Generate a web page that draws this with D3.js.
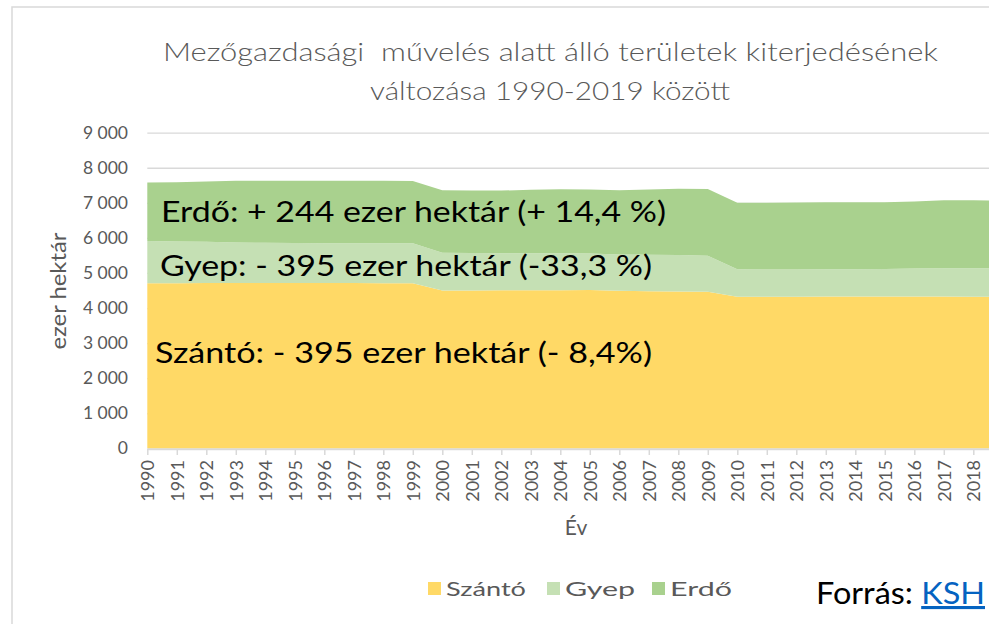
<!DOCTYPE html>
<html><head><meta charset="utf-8">
<script src="https://cdn.jsdelivr.net/npm/d3@7"></script>
<style>
body{margin:0;background:#fff}
svg{display:block}
text{font-family:Lato,"Open Sans",sans-serif}
</style>
</head><body>
<svg id="c" width="989" height="624"></svg>
<script>
const years = [1990,1991,1992,1993,1994,1995,1996,1997,1998,1999,2000,2001,2002,2003,2004,2005,2006,2007,2008,2009,2010,2011,2012,2013,2014,2015,2016,2017,2018,2019];
const szanto = [4705,4710,4712,4715,4715,4716,4716,4715,4710,4710,4500,4503,4505,4507,4510,4513,4490,4480,4470,4465,4323,4320,4325,4330,4330,4330,4330,4330,4325,4320];
const gyep   = [1206,1190,1178,1155,1145,1139,1134,1135,1140,1135,1080,1067,1060,1053,1050,1042,1040,1040,1040,1027,781,780,775,775,775,780,800,805,810,812];
const erdo   = [1667,1690,1720,1760,1770,1775,1780,1780,1780,1780,1780,1780,1785,1810,1830,1825,1830,1860,1890,1903,1899,1900,1910,1910,1910,1905,1910,1940,1940,1928];
const seriesNames = ["Szántó","Gyep","Erdő"];
const seriesColors = ["#ffd966","#c5e0b4","#a9d18e"];
const yTicks = [0,1000,2000,3000,4000,5000,6000,7000,8000,9000];
const xTickYears = [1990,1991,1992,1993,1994,1995,1996,1997,1998,1999,2000,2001,2002,2003,2004,2005,2006,2007,2008,2009,2010,2011,2012,2013,2014,2015,2016,2017,2018];
const titleLines = ["Mezőgazdasági  művelés alatt álló területek kiterjedésének","változása 1990-2019 között"];
const annotations = ["Erdő: + 244 ezer hektár (+ 14,4 %)","Gyep: - 395 ezer hektár (-33,3 %)","Szántó: - 395 ezer hektár (- 8,4%)"];

const rows = years.map((y,i)=>({year:y,"Szántó":szanto[i],"Gyep":gyep[i],"Erdő":erdo[i]}));
const svg = d3.select("#c");
const gray = "#595959", gridC = "#d9d9d9";

// outer frame
svg.append("rect").attr("x",12).attr("y",7).attr("width",1100).attr("height",800)
  .attr("fill","none").attr("stroke",gridC).attr("stroke-width",1.5);

const x = d3.scaleLinear().domain([1990,2019]).range([147.3,1002.8]);
const y = d3.scaleLinear().domain([0,9000]).range([448.3,132.7]);
const loc = d3.formatLocale({decimal:",",thousands:" ",grouping:[3],currency:["",""]});
const fmt = loc.format(",");

// grid
const grid = svg.append("g").attr("transform",`translate(${x.range()[0]},0)`)
  .call(d3.axisLeft(y).tickValues(yTicks).tickSize(-(1002.8-147.3)).tickFormat(""));
grid.select(".domain").remove();
grid.selectAll("line").attr("stroke",gridC).attr("stroke-width",1.3);

// y labels
const yl = svg.append("g").attr("transform","translate(128,0)")
  .call(d3.axisLeft(y).tickValues(yTicks).tickSize(0).tickPadding(0).tickFormat(fmt));
yl.select(".domain").remove();
yl.selectAll("text").attr("fill",gray).style("font-size","17.5px").style("font-family","Lato");

// areas
const stack = d3.stack().keys(seriesNames);
const layers = stack(rows);
const area = d3.area().x(d=>x(d.data.year)).y0(d=>y(d[0])).y1(d=>y(d[1]));
svg.append("g").selectAll("path").data(layers).join("path")
  .attr("d",area).attr("fill",(d,i)=>seriesColors[i]);

// x axis
const xa = svg.append("g").attr("transform","translate(0,449)")
  .call(d3.axisBottom(x).tickValues(xTickYears).tickSize(6).tickSizeOuter(0).tickFormat(d3.format("d")));
xa.select(".domain").attr("stroke",gridC).attr("stroke-width",1.5);
xa.selectAll(".tick line").attr("stroke",gridC).attr("stroke-width",1.5);
xa.selectAll("text").attr("fill",gray).style("font-size","18px").style("font-family","Lato")
  .attr("transform","rotate(-90)").attr("text-anchor","end").attr("x",-11).attr("y",0).attr("dy","0.36em");

// axis titles
svg.append("text").attr("transform","translate(59,291) rotate(-90)").attr("text-anchor","middle")
  .attr("dy","0.35em").attr("fill",gray).style("font-size","21px")
  .attr("textLength",117).attr("lengthAdjust","spacingAndGlyphs").text("ezer hektár");
svg.append("text").attr("x",576).attr("y",535).attr("text-anchor","middle")
  .attr("fill",gray).style("font-size","21px").text("Év");

// title
svg.append("text").attr("x",163).attr("y",61).attr("fill",gray).style("font-size","26px").style("font-weight",300)
  .attr("textLength",775).attr("lengthAdjust","spacingAndGlyphs").attr("xml:space","preserve").text(titleLines[0]);
svg.append("text").attr("x",370).attr("y",100).attr("fill",gray).style("font-size","26px").style("font-weight",300)
  .attr("textLength",360).attr("lengthAdjust","spacingAndGlyphs").text(titleLines[1]);

// annotations
const annPos = [[161,222,505],[160,276,492],[155,363,497]];
annotations.forEach((t,i)=>{
  svg.append("text").attr("x",annPos[i][0]).attr("y",annPos[i][1]).attr("fill","#000")
    .style("font-size","28.5px").attr("textLength",annPos[i][2]).attr("lengthAdjust","spacingAndGlyphs").text(t);
});

// legend
const legX = [428,547,652], legTW = [80,70,62];
seriesNames.forEach((n,i)=>{
  svg.append("rect").attr("x",legX[i]).attr("y",582).attr("width",13).attr("height",13).attr("fill",seriesColors[i]);
  svg.append("text").attr("x",legX[i]+18).attr("y",596).attr("fill",gray).style("font-size","20px")
    .attr("textLength",legTW[i]).attr("lengthAdjust","spacingAndGlyphs").text(n);
});

// source
const src = svg.append("text").attr("x",816).attr("y",604).attr("fill","#000").style("font-size","31px")
  .attr("textLength",169).attr("lengthAdjust","spacingAndGlyphs");
src.append("tspan").text("Forrás: ");
src.append("tspan").attr("fill","#0563c1").style("text-decoration","underline").text("KSH");
</script>
</body></html>
